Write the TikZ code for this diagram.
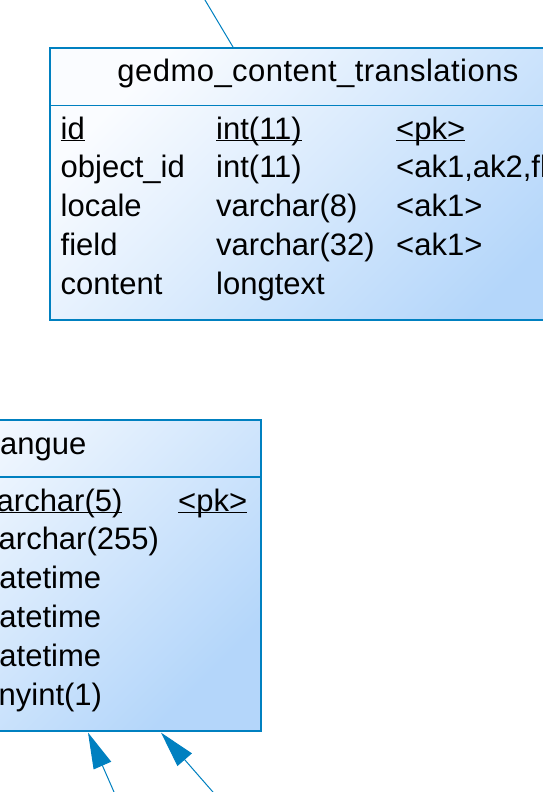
\documentclass[tikz,border=0pt]{standalone}
\usepackage{fontspec}
\setmainfont{Liberation Sans}
\usetikzlibrary{arrows.meta,calc}
\definecolor{pdblue}{RGB}{0,128,192}
\definecolor{pdlight}{RGB}{250,252,255}
\definecolor{pdfill}{RGB}{180,214,250}
\newcommand{\keyline}[1]{\underline{\smash{#1}}}

\begin{document}
\begin{tikzpicture}[x=1pt, y=-1pt,
    entity/.style={rectangle, draw=pdblue, line width=1.6pt, top color=pdlight,
                   bottom color=pdfill, shading angle=45, inner sep=0pt},
    rule/.style={pdblue, line width=1.4pt},
    col/.style={anchor=base west, inner sep=0pt, font=\fontsize{31}{36}\selectfont},
    etitle/.style={anchor=base, inner sep=0pt,
                   font=\fontsize{31}{36}\selectfont\addfontfeature{LetterSpace=1.5}},
    ref/.style={pdblue, line width=1pt, -{Triangle[length=36pt, width=19pt]}}
]
\useasboundingbox (0,0) rectangle (543,792);
\clip (0,0) rectangle (543,792);

% gedmo_content_translations
\node[entity, anchor=north west, minimum width=540pt, minimum height=272pt] (trans) at (49,47) {};
\draw[rule] ($(trans.north west)+(0,58.5)$) -- ($(trans.north east)+(0,58.5)$);
\node[etitle] (transname) at (318,81.5) {gedmo\_content\_translations};

\node[col] (tid)   at (60.5,139) {\keyline{id}};
\node[col] (tidt)  at (216,139)  {\keyline{int(11)}};
\node[col] (tidk)  at (396,139)  {\keyline{<pk>}};
\node[col] (tobj)  at (60.5,177.8) {object\_id};
\node[col] (tobjt) at (216,177.8)  {int(11)};
\node[col] (tobjk) at (396,177.8)  {<ak1,ak2,fk>};
\node[col] (tloc)  at (60.5,216.6) {locale};
\node[col] (tloct) at (216,216.6)  {varchar(8)};
\node[col] (tlock) at (396,216.6)  {<ak1>};
\node[col] (tfld)  at (60.5,255.4) {field};
\node[col] (tfldt) at (216,255.4)  {varchar(32)};
\node[col] (tfldk) at (396,255.4)  {<ak1>};
\node[col] (tcnt)  at (60.5,294.2) {content};
\node[col] (tcntt) at (216,294.2)  {longtext};

% langue
\node[entity, anchor=north east, minimum width=420pt, minimum height=311pt] (langue) at (262,419) {};
\draw[rule] ($(langue.north west)+(0,58)$) -- ($(langue.north east)+(0,58)$);
\node[col] (lname) at (-6.9,454) {langue};

\node[col] (lcodet) at (-19,511) {\keyline{varchar(5)}};
\node[col] (lcodek) at (178,511) {\keyline{<pk>}};
\node[col] (llabt)  at (-17,549.8) {varchar(255)};
\node[col] (ld1t)   at (-18,588.6) {datetime};
\node[col] (ld2t)   at (-18,627.4) {datetime};
\node[col] (ld3t)   at (-18,666.2) {datetime};
\node[col] (lflagt) at (-17,705) {tinyint(1)};

% references
\coordinate (up)    at (202,-5);
\coordinate (transin) at ($(trans.north west)+(184,0)$);
\coordinate (down1) at (116.2,797);
\coordinate (down2) at (217.3,797);
\coordinate (lin1)  at ($(langue.south east)+(-174,1)$);
\coordinate (lin2)  at ($(langue.south east)+(-101,1)$);

\draw[pdblue, line width=1pt] (up) -- (transin);
\draw[ref] (down1) -- (lin1);
\draw[ref] (down2) -- (lin2);
\end{tikzpicture}
\end{document}
